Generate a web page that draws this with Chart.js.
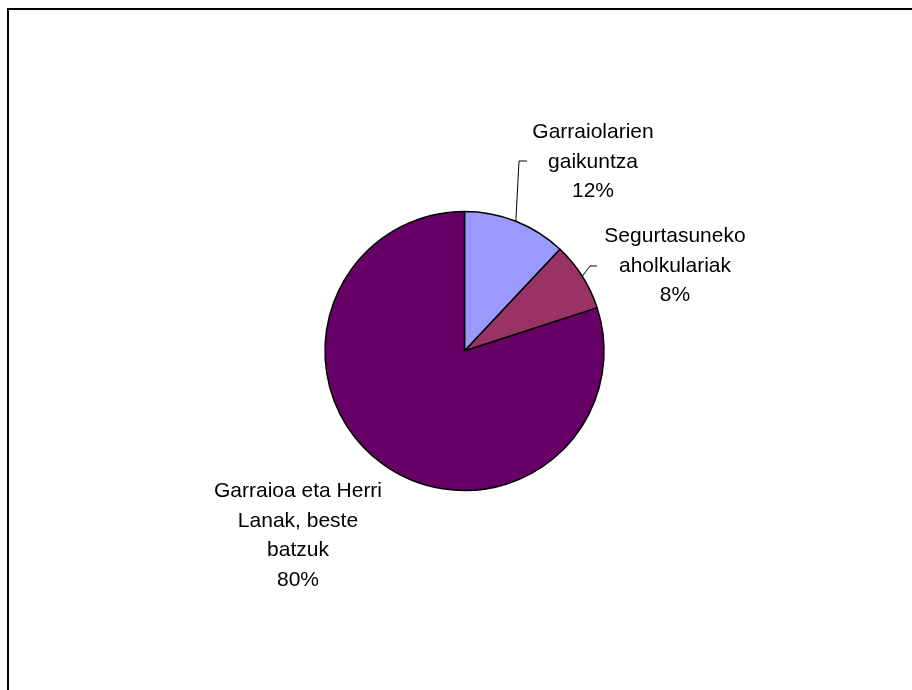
<!DOCTYPE html>
<html>
<head>
<meta charset="utf-8">
<script src="https://cdn.jsdelivr.net/npm/chart.js@4/dist/chart.umd.min.js"></script>
<style>
  html, body { margin: 0; padding: 0; background: #fff; }
  #wrap { position: relative; width: 912px; height: 690px; overflow: hidden; }
  #frame { position: absolute; left: 7px; top: 8px; width: 920px; height: 700px;
           border-top: 2px solid #000; border-left: 2px solid #000; }
  canvas { position: absolute; left: 0; top: 0; }
</style>
</head>
<body>
<div id="wrap">
  <div id="frame"></div>
  <canvas id="pie" width="912" height="690"></canvas>
</div>
<script>
// ---- data ----
const labels = [
  ["Garraiolarien", "gaikuntza"],
  ["Segurtasuneko", "aholkulariak"],
  ["Garraioa eta Herri", "Lanak, beste", "batzuk"],
];
const values = [12, 8, 80];
const colors = ["#9999ff", "#993366", "#660066"];

// label placement (center x, first baseline y) and leader elbow per slice
const labelPos = [
  { x: 593, y: 138, elbow: [519, 161], end: 527 },
  { x: 675, y: 242, elbow: [590, 266], end: 597 },
  { x: 298, y: 497, elbow: null },
];
const LINE_H = 29.7;

const labelPlugin = {
  id: "excelLabels",
  afterDatasetsDraw(chart) {
    const ctx = chart.ctx;
    const meta = chart.getDatasetMeta(0);
    const total = values.reduce((a, v) => a + v, 0);
    ctx.save();
    meta.data.forEach((arc, i) => {
      const p = labelPos[i];
      const { x, y, startAngle, endAngle, outerRadius } = arc.getProps(
        ["x", "y", "startAngle", "endAngle", "outerRadius"], true);
      if (p.elbow) {
        const mid = (startAngle + endAngle) / 2;
        ctx.beginPath();
        ctx.moveTo(x + Math.cos(mid) * outerRadius, y + Math.sin(mid) * outerRadius);
        ctx.lineTo(p.elbow[0], p.elbow[1]);
        ctx.lineTo(p.end, p.elbow[1]);
        ctx.strokeStyle = "#000";
        ctx.lineWidth = 1;
        ctx.stroke();
      }
      const lines = [...labels[i], Math.round((values[i] / total) * 100) + "%"];
      ctx.fillStyle = "#000";
      ctx.font = '21px "Liberation Sans", Arial, sans-serif';
      ctx.textAlign = "center";
      ctx.textBaseline = "alphabetic";
      lines.forEach((t, k) => ctx.fillText(t, p.x, p.y + k * LINE_H));
    });
    ctx.restore();
  },
};

new Chart(document.getElementById("pie").getContext("2d"), {
  type: "pie",
  data: {
    labels: labels.map((l) => l.join(" ")),
    datasets: [{
      data: values,
      backgroundColor: colors,
      borderColor: "#000",
      borderWidth: 1.5,
      radius: 139.5,
    }],
  },
  options: {
    responsive: false,
    animation: false,
    layout: { padding: { left: 200, right: 183, top: 100, bottom: 88 } },
    plugins: { legend: { display: false }, tooltip: { enabled: false } },
  },
  plugins: [labelPlugin],
});
</script>
</body>
</html>
